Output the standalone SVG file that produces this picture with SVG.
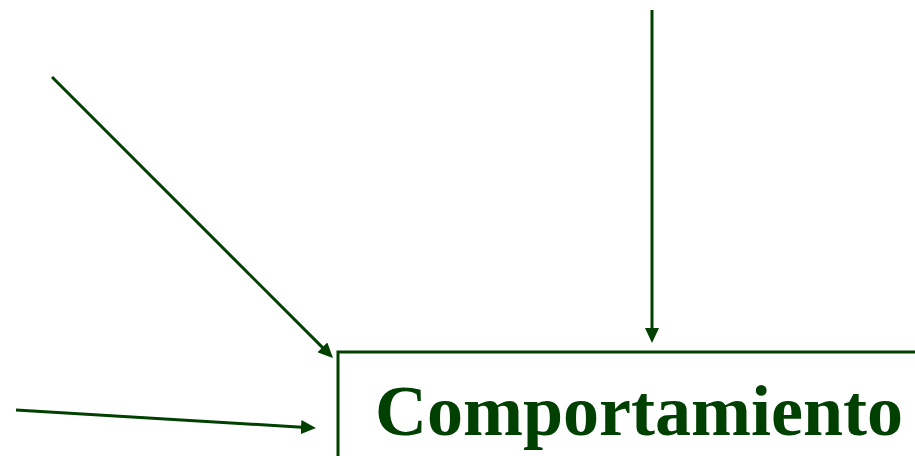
<svg xmlns="http://www.w3.org/2000/svg" width="915" height="456" viewBox="0 0 915 456">
<style>
.conn{stroke:#004000;stroke-width:3;fill:none}
.box{stroke:#004000;stroke-width:3;fill:#ffffff}
.lbl{font-family:"Liberation Serif","Times New Roman",serif;font-weight:bold;font-size:72px;fill:#004000}
</style>
<defs>
<marker id="ah" markerUnits="userSpaceOnUse" markerWidth="15" markerHeight="14" refX="5" refY="7" orient="auto" viewBox="0 0 15 14">
<path d="M0,0 L15,7 L0,14 z" fill="#004000"/>
</marker>
</defs>
<rect width="915" height="456" fill="#ffffff"/>
<g id="node-comportamiento">
<rect class="box" x="338" y="352" width="620" height="200"/>
<text class="lbl" x="375" y="435">Comportamiento</text>
</g>
<g id="connectors">
<line class="conn" x1="652" y1="10" x2="652" y2="333" marker-end="url(#ah)"/>
<line class="conn" x1="52" y1="77" x2="325.9" y2="350.9" marker-end="url(#ah)"/>
<line class="conn" x1="16" y1="410" x2="306" y2="427.4" marker-end="url(#ah)"/>
</g>
</svg>
